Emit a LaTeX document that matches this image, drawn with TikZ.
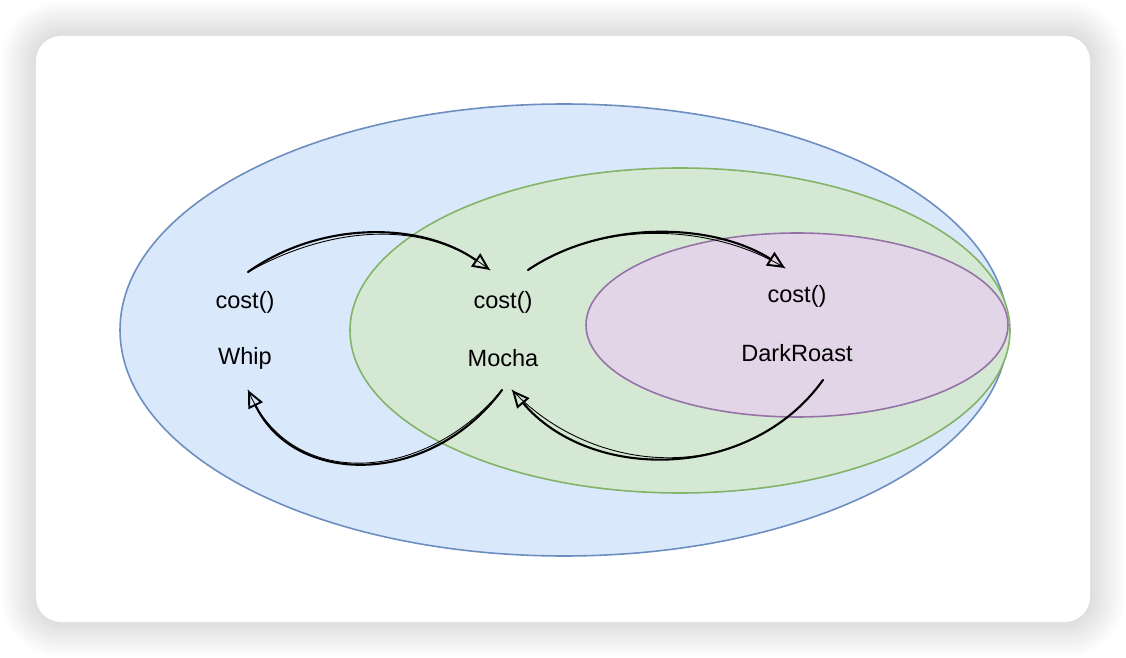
\documentclass[tikz,border=0pt]{standalone}
\usepackage{fontspec}
\setmainfont{Liberation Sans}
\usetikzlibrary{arrows.meta}
\definecolor{outerfill}{HTML}{DAE8FC}
\definecolor{outerdraw}{HTML}{6C8EBF}
\definecolor{midfill}{HTML}{D5E8D4}
\definecolor{middraw}{HTML}{82B366}
\definecolor{innerfill}{HTML}{E1D5E7}
\definecolor{innerdraw}{HTML}{9673A6}

\begin{document}
\begin{tikzpicture}[x=0.02cm, y=-0.02cm,
    every node/.style={font=\fontsize{13.4}{16}\selectfont},
    wrapper/.style={line width=0.9pt},
    call/.style={line width=1.2pt, line cap=round,
      -{Triangle[open, length=10pt, width=9pt, line width=1.1pt]}},
    trace/.style={line width=0.5pt, line cap=round}
  ]
  \useasboundingbox (0,0) rectangle (1126,658);
  % card and its soft shadow
  \foreach \i in {1,...,16}{
    \pgfmathsetmacro{\rr}{(25+\i*2.2)*0.02}
    \fill[black, opacity=0.0085, rounded corners=\rr cm]
      (36-\i*2.2, 36-\i*2.2) rectangle (1090+\i*2.2, 622+\i*2.2);
  }
  \fill[white, rounded corners=0.5cm] (36,36) rectangle (1090,622);

  % nested decorators
  \draw[wrapper, fill=outerfill, draw=outerdraw] (564,330) ellipse [x radius=444, y radius=226];
  \draw[wrapper, fill=midfill, draw=middraw] (680,330.5) ellipse [x radius=330, y radius=162.5];
  \draw[wrapper, fill=innerfill, draw=innerdraw] (797,325) ellipse [x radius=211, y radius=92];

  \node (wcost) at (245,302) {cost()};
  \node (whip)  at (245,358) {Whip};
  \node (mcost) at (503,302) {cost()};
  \node (mocha) at (503,358) {Mocha};
  \node (dcost) at (797,296) {cost()};
  \node (dark)  at (797,353) {DarkRoast};

  \coordinate (wout) at (248,272);
  \coordinate (min)  at (490,270);
  \coordinate (mout) at (528,270);
  \coordinate (din)  at (785,268);
  \coordinate (dret) at (823,380);
  \coordinate (mget) at (512,390);
  \coordinate (mret) at (502,390);
  \coordinate (wget) at (248,390);

  \draw[call] (wout) .. controls (320,221) and (420,221) .. (min);
  \draw[trace] (wout) .. controls (330,226) and (425,218) .. (min);
  \draw[call] (mout) .. controls (600,221) and (710,221) .. (din);
  \draw[trace] (mout) .. controls (605,218) and (715,225) .. (din);
  \draw[call] (mret) .. controls (430,487) and (295,487) .. (wget);
  \draw[trace] (mret) .. controls (425,483) and (290,492) .. (wget);
  \draw[call] (dret) .. controls (750,482) and (590,482) .. (mget);
  \draw[trace] (dret) .. controls (745,486) and (595,478) .. (mget);
\end{tikzpicture}
\end{document}
